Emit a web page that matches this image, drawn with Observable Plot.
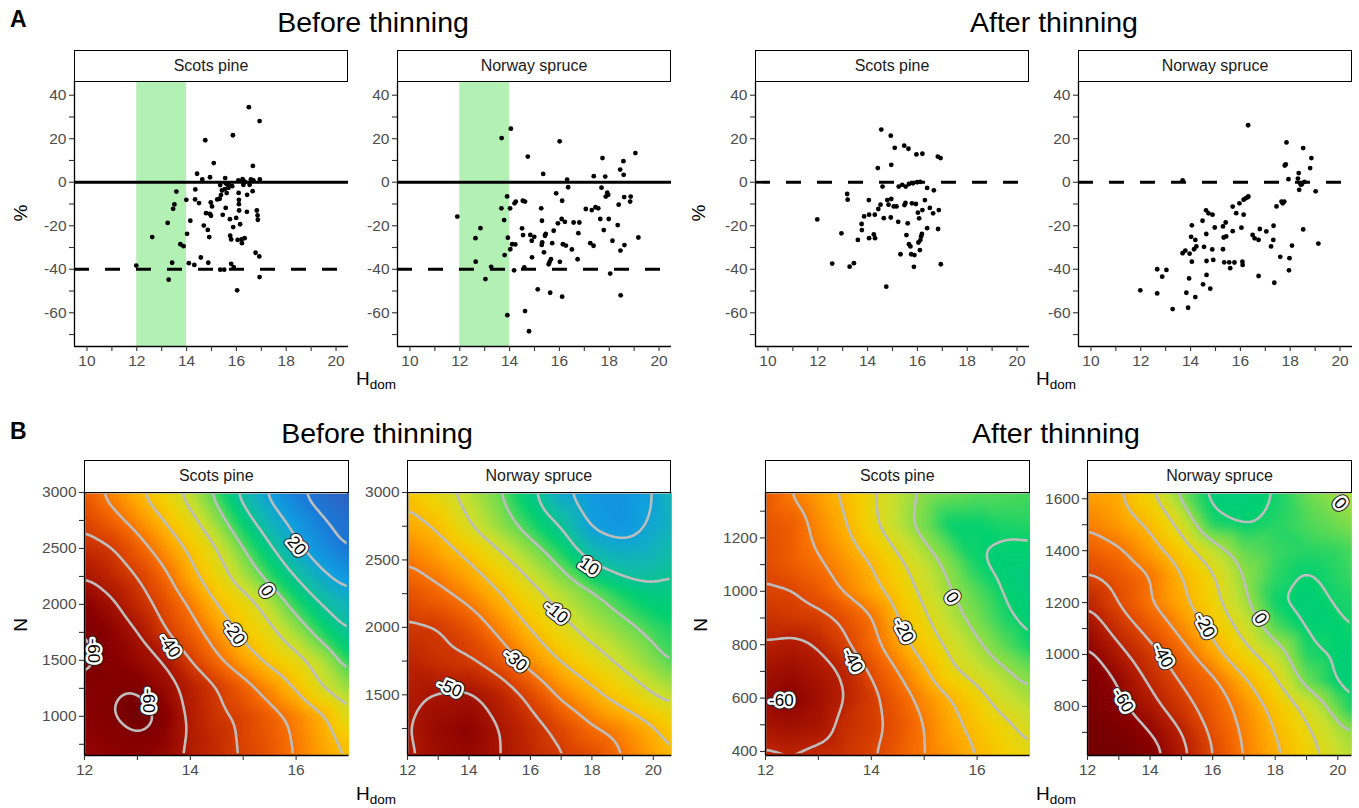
<!DOCTYPE html>
<html>
<head>
<meta charset="utf-8">
<script src="https://cdn.jsdelivr.net/npm/d3@7"></script>
<script src="https://cdn.jsdelivr.net/npm/@observablehq/plot@0.6"></script>
<style>
  body { margin: 0; background: #fff; }
  #fig { position: relative; width: 1359px; height: 808px; overflow: hidden; background: #fff;
         font-family: "Liberation Sans", Arial, Helvetica, sans-serif; color: #000; }
  .strip { position: absolute; box-sizing: border-box; border: 1.4px solid #000; background: #fff;
           display: flex; align-items: center; justify-content: center; font-size: 16px; color: #1a1a1a; z-index: 2; }
  .title { position: absolute; font-size: 28.5px; line-height: 28px; white-space: nowrap; transform: translateX(-50%); }
  .tag { position: absolute; font-size: 23px; line-height: 23px; font-weight: bold; }
  .axt { position: absolute; font-size: 19px; line-height: 19px; white-space: nowrap; }
  .axt sub { font-size: 13.5px; vertical-align: -4px; line-height: 0; }
  .roty { transform: translate(-50%, -50%) rotate(-90deg); }
</style>
</head>
<body>
<div id="fig"></div>
<script>
const FONT = '"Liberation Sans", Arial, Helvetica, sans-serif';

// ---------- Panel A: relative error (%) against dominant height ----------
const pineBefore = [
  [11.98,-38.3],[12.62,-25.2],[13.24,-18.7],[13.28,-44.8],[13.42,-37.0],[13.46,-12.2],[13.51,-10.2],[13.59,-4.3],
  [13.75,-28.5],[13.88,-29.4],[13.99,-8.1],[14.02,-23.7],[14.09,-37.2],[14.15,-17.7],[14.31,-38.0],[14.34,-7.9],
  [14.35,-3.3],[14.42,3.9],[14.5,-9.6],[14.57,-34.6],[14.63,1.3],[14.69,-19.9],[14.75,19.3],[14.78,-14.2],
  [14.85,-21.9],[14.87,-37.0],[14.91,-25.2],[14.94,2.3],[14.93,-14.5],[14.97,-9.3],[14.98,-15.4],[15.02,-11.1],
  [15.09,8.8],[15.23,-7.9],[15.33,-7.6],[15.38,-5.9],[15.42,-3.8],[15.45,-15.0],[15.35,-40.2],[15.51,-40.2],
  [15.53,-3.2],[15.55,1.9],[15.57,-11.8],[15.61,-5.0],[15.64,-1.0],[15.68,-2.6],[15.74,-17.0],[15.75,-24.6],
  [15.79,-26.3],[15.79,-37.5],[15.83,-1.8],[15.86,21.6],[15.87,-20.6],[15.89,-39.0],[15.99,-16.4],[16.03,-49.7],
  [16.05,-26.5],[16.09,-4.9],[16.1,-8.1],[16.1,-10.1],[16.11,-13.0],[16.15,-19.3],[16.21,-26.3],[16.22,-28.0],
  [16.25,1.4],[16.28,-1.2],[16.33,-25.7],[16.42,-13.6],[16.43,-5.8],[16.5,34.5],[16.53,-1.2],[16.58,1.3],
  [16.65,-4.1],[16.66,7.5],[16.77,-32.4],[16.82,-13.0],[16.85,-15.3],[16.86,-17.3],[16.93,28.1],[16.94,1.3],
  [16.92,-34.1],[16.93,-43.6],[15.35,-1.3],[15.57,-0.5],[15.69,-0.9],[16.08,0.8],[16.35,0.2],[16.68,0.9]
];
const spruceBefore = [
  [11.9,-15.8],[12.63,-25.7],[12.64,-36.5],[12.83,-21.1],[13.03,-44.5],[13.26,-38.9],[13.67,-12.0],[13.68,20.3],
  [13.78,-17.4],[13.8,-33.5],[13.9,-6.5],[13.91,-61.1],[13.93,-25.5],[14.02,-12.0],[14.03,-30.8],[14.05,24.6],
  [14.1,-28.5],[14.18,-40.5],[14.2,-9.7],[14.23,-28.6],[14.25,-8.9],[14.5,-21.2],[14.53,-8.5],[14.54,-24.3],
  [14.62,-8.9],[14.62,-59.2],[14.59,-39.2],[14.73,11.8],[14.78,-68.5],[14.83,-24.2],[14.89,-26.9],[14.9,-34.5],
  [14.99,-25.1],[15.13,-49.2],[15.27,-12.0],[15.29,-28.8],[15.3,-17.7],[15.31,-27.7],[15.35,3.8],[15.38,-32.2],
  [15.42,-24.6],[15.45,-23.8],[15.57,-37.7],[15.61,-36.6],[15.63,-50.8],[15.66,-35.4],[15.71,-28.0],[15.77,-22.3],
  [15.87,-5.1],[15.94,-18.9],[16.01,18.8],[16.02,-36.6],[16.09,-16.9],[16.11,-8.5],[16.11,-52.6],[16.14,-28.5],
  [16.22,-18.2],[16.26,-29.1],[16.31,1.2],[16.35,-2.3],[16.5,-30.9],[16.57,-18.5],[16.73,-35.4],[16.76,-23.4],
  [16.8,-18.5],[17.06,-12.3],[17.24,-28.0],[17.3,-12.8],[17.37,-29.2],[17.38,2.8],[17.45,-11.5],[17.56,-12.0],
  [17.64,-16.9],[17.69,-2.5],[17.73,11.1],[17.78,-22.0],[17.84,2.6],[17.86,-6.6],[17.92,-4.8],[17.96,-5.8],
  [17.98,-16.9],[18.04,-42.0],[18.13,-26.9],[18.34,-19.7],[18.38,-10.3],[18.44,5.8],[18.45,-31.4],[18.46,-52.0],
  [18.57,9.7],[18.58,3.4],[18.6,-6.8],[18.61,-28.9],[18.84,-8.9],[18.86,-6.6],[19.05,13.4],[19.17,-25.4]
];
const pineAfter = [
  [11.98,-17.1],[12.58,-37.4],[12.95,-23.5],[13.18,-5.4],[13.2,-8.0],[13.28,-38.8],[13.45,-37.2],[13.61,-26.5],
  [13.76,-19.2],[13.77,-22.0],[13.86,-15.7],[14.05,-8.2],[14.06,-14.9],[14.06,-25.7],[14.25,-24.0],[14.29,-14.9],
  [14.3,-25.7],[14.41,6.5],[14.43,-12.3],[14.52,-10.3],[14.55,24.2],[14.6,-2.0],[14.65,-16.5],[14.79,-8.2],
  [14.84,-10.3],[14.93,21.4],[14.95,8.0],[14.95,-7.7],[14.93,-16.2],[15.05,-11.1],[15.09,15.8],[15.16,-11.1],
  [15.23,-18.2],[15.25,-2.0],[15.32,-33.1],[15.39,-1.2],[15.47,16.8],[15.48,-10.5],[15.52,-9.5],[15.53,-2.0],
  [15.56,-24.3],[15.61,-18.9],[15.64,15.4],[15.66,-0.8],[15.66,-28.5],[15.72,-29.5],[15.78,-9.7],[15.82,-0.5],
  [15.75,-33.1],[15.86,-38.9],[15.88,-33.5],[15.94,-10.0],[15.96,12.8],[15.99,0.0],[16.02,-14.0],[16.04,-27.7],
  [16.07,-16.6],[16.1,-31.2],[16.11,0.2],[16.12,-26.6],[16.15,-24.9],[16.18,-23.8],[16.2,13.1],[16.2,-12.8],
  [16.3,-8.2],[16.39,-2.6],[16.39,-21.1],[16.5,-11.8],[16.63,-14.3],[16.66,-3.7],[16.82,11.8],[16.83,-21.5],
  [16.86,-12.8],[16.93,11.1],[16.94,-37.7],[14.75,-48.0]
];
const spruceAfter = [
  [11.98,-49.7],[12.66,-40.0],[12.66,-51.1],[12.86,-43.4],[13.03,-40.3],[13.28,-58.3],[13.68,0.8],[13.68,-32.6],
  [13.79,-31.4],[13.83,-50.8],[13.9,-57.7],[13.94,-44.2],[13.96,-32.8],[14.02,-25.1],[14.05,-19.8],[14.05,-36.5],
  [14.14,-30.8],[14.19,-26.5],[14.23,-29.5],[14.19,-52.8],[14.48,-17.7],[14.5,-46.9],[14.54,-29.7],[14.62,-12.9],
  [14.63,-23.8],[14.64,-36.2],[14.64,-42.6],[14.72,-14.3],[14.79,-48.9],[14.87,-30.9],[14.88,-14.9],[14.91,-35.7],
  [14.97,-20.8],[15.3,-20.3],[15.3,-30.8],[15.33,-25.4],[15.35,-36.8],[15.41,-18.5],[15.43,-24.9],[15.55,-36.8],
  [15.59,-39.5],[15.69,-22.5],[15.69,-11.2],[15.76,-36.9],[15.83,-14.2],[15.96,-9.7],[16.04,-20.9],[16.08,-36.5],
  [16.09,-38.0],[16.13,-14.9],[16.13,-8.0],[16.21,-7.4],[16.29,-6.9],[16.32,-6.5],[16.31,26.2],[16.49,-24.2],
  [16.57,-25.8],[16.73,-26.5],[16.73,-43.1],[16.78,-21.5],[17.04,-22.6],[17.23,-29.5],[17.32,-26.5],[17.33,-20.0],
  [17.36,-46.2],[17.45,-11.1],[17.6,-34.3],[17.65,-8.9],[17.7,-9.7],[17.76,-8.9],[17.78,7.7],[17.82,8.2],
  [17.85,18.3],[17.93,1.4],[17.97,-34.9],[17.95,-40.5],[18.07,-29.1],[18.34,4.2],[18.31,1.7],[18.36,-3.5],
  [18.4,-0.5],[18.47,-0.8],[18.52,15.7],[18.52,-21.7],[18.57,0.2],[18.8,6.5],[18.85,11.1],[19.02,-4.2],
  [19.13,-28.2],[18.43,-1.2]
];

const scatterXDomain = [9.5, 20.5];
const scatterYDomain = [-75.5, 46.3];
const scatterXTicks = [10, 11, 12, 13, 14, 15, 16, 17, 18, 19, 20];
const scatterYTicks = [-70, -60, -50, -40, -30, -20, -10, 0, 10, 20, 30, 40];
const heightBand = [{from: 12, to: 14}];
const beforeRefs = [{y: 0, dashed: false}, {y: -40, dashed: true}];
const afterRefs = [{y: 0, dashed: true}];

// ---------- Panel B: error surface over Hdom (columns) and N (rows) ----------
const pineBeforeH = [12, 12.5, 13, 13.5, 14, 14.5, 15, 15.5, 16, 16.5, 17];
const pineBeforeN = [3000, 2750, 2500, 2250, 2000, 1750, 1500, 1250, 1000, 800, 650];
const pineBeforeZ = [
  [-34, -27.5, -21, -14.3, -6.8, 2.4, 12.9, 21.9, 28.8, 34, 37],
  [-38.5, -33, -26.8, -20, -12.5, -3.1, 6.4, 15.5, 23.2, 29.5, 33],
  [-44, -41, -33.5, -26, -18.5, -10.2, 0, 8.6, 18.3, 25.3, 31],
  [-50, -45.5, -40, -32, -22.7, -14.1, -5.7, 2.5, 10.3, 18.6, 24],
  [-57, -51.8, -44.6, -37, -29, -20, -14.2, -6.7, 2.9, 10.3, 16],
  [-61, -56.3, -50.6, -40.8, -33.7, -25.9, -18.1, -12.4, -4.8, 3.6, 10.5],
  [-61.5, -57.4, -53.8, -50.1, -39.8, -31.4, -24.1, -17.9, -12.8, -5.8, 3.5],
  [-58, -58.5, -59.8, -54, -47.5, -40.7, -33.7, -26.6, -19.5, -10, -3.5],
  [-57, -59.5, -64.5, -58.5, -48, -42, -38.5, -33.4, -28, -21.8, -11],
  [-56, -57, -59, -56, -48.5, -44, -38.5, -34.5, -29, -23, -17],
  [-55, -56, -57, -54, -48, -43.6, -39.4, -35, -29.5, -24, -19]
];
const spruceBeforeH = [12, 13, 14, 15, 16, 17, 18, 19, 20, 20.6];
const spruceBeforeN = [3000, 2750, 2500, 2250, 2000, 1750, 1500, 1250, 1050];
const spruceBeforeZ = [
  [-18, -12.7, -6.7, -0.1, 8.3, 19, 23, 24, 20.5, 14],
  [-23.3, -18.9, -10.4, -3.6, 3.1, 10, 21.5, 23.5, 19, 15.5],
  [-29.6, -25.2, -19.8, -12.4, -5.3, 1.9, 11, 15, 14, 12],
  [-35.9, -32.1, -27.1, -20.4, -12.8, -6.5, -0.9, 4.5, 8, 7.5],
  [-41.5, -40.4, -35.3, -27.5, -19.5, -12.2, -6.7, -2, 2.5, 4],
  [-45.5, -43, -41, -35.4, -26.7, -19.5, -13.7, -8, -2.2, 1.2],
  [-48, -50.5, -51.5, -46, -37.4, -28.5, -22.3, -16.2, -10, -7],
  [-49, -54, -56, -50, -44, -37.6, -31, -27, -21, -16.9],
  [-48.5, -53, -54.5, -50.2, -45, -41, -37, -30.2, -24, -20]
];
const pineAfterH = [12, 12.5, 13, 13.5, 14, 14.5, 15, 15.5, 16, 16.5, 17];
const pineAfterN = [1370, 1250, 1100, 1000, 900, 800, 700, 600, 500, 385];
const pineAfterZ = [
  [-36, -29.3, -24, -18.3, -11, -4, 1.5, 3.5, 5, 5.5, 6.5],
  [-37.5, -34.8, -27.4, -20.7, -12, -3.7, 3.3, 10.5, 10.5, 9, 8.5],
  [-39, -35.1, -31.3, -26.1, -20.3, -12.4, -4.8, 2.3, 9.7, 12, 12],
  [-41, -40.6, -36.3, -28.7, -23, -16, -7.7, 0, 5.4, 10.5, 13],
  [-46, -44, -42.5, -38, -31, -20.1, -11.4, -3.3, 3, 8.7, 12],
  [-50.8, -53, -49.3, -41.6, -32.9, -24, -15.4, -7.6, -1.2, 5, 10],
  [-56, -58, -54, -49, -38.8, -30, -21.5, -11.5, -6, -1.2, 3.5],
  [-58.5, -62, -57, -50.3, -43, -34.9, -27, -20.3, -13.5, -6, -1.5],
  [-55, -57, -55, -47, -43, -37.2, -30, -22.5, -17, -12, -7],
  [-48, -49, -47, -45, -41, -35.4, -30, -25.5, -20, -15, -11]
];
const spruceAfterH = [12, 13, 14, 15, 16, 17, 18, 19, 20, 20.45];
const spruceAfterN = [1624, 1500, 1400, 1300, 1200, 1100, 1000, 900, 800, 700, 611];
const spruceAfterZ = [
  [-24, -21, -11.4, 3, 12.5, 13, 9.8, 4, -1, -3],
  [-29, -24.7, -18.8, -7.7, 8.5, 10.5, 8.5, 6, 3.5, 2],
  [-35, -31.3, -23.9, -15.2, -4.5, 4.5, 7, 8.5, 7.5, 6],
  [-41, -36.3, -30.7, -20.7, -11.3, 0.5, 8, 10.8, 8.5, 7],
  [-49.5, -39.2, -30.2, -22.2, -13, -2, 10, 12, 9.5, 9],
  [-57, -45.8, -36.7, -27.5, -17.8, -7.2, 5, 11, 11, 9.8],
  [-62.5, -53.1, -43.4, -33.8, -23.3, -12.9, -4.6, 8.5, 11, 12],
  [-66, -59.6, -48.4, -39.1, -31.9, -21.4, -11.3, 4, 11.5, 12],
  [-68, -62, -53.7, -44, -35.4, -26.8, -16.9, -7.7, 4.4, 10],
  [-70, -67, -60.4, -50.4, -38.2, -28.7, -20, -11.6, -3, 0],
  [-69, -70, -65, -53, -40, -29.6, -21.8, -14, -5.8, -3]
];

// contour labels: position (Hdom, N), text and text angle
const pineBeforeLabels = [
  {h: 12.17, n: 1586, t: "-60", r: 90}, {h: 13.2, n: 1140, t: "-60", r: 90},
  {h: 13.61, n: 1631, t: "-40", r: 55}, {h: 14.83, n: 1747, t: "-20", r: 55},
  {h: 15.45, n: 2122, t: "0", r: 55}, {h: 16.01, n: 2524, t: "20", r: 50}
];
const spruceBeforeLabels = [
  {h: 13.37, n: 1552, t: "-50", r: 22}, {h: 15.51, n: 1758, t: "-30", r: 40},
  {h: 16.84, n: 2112, t: "-10", r: 40}, {h: 17.92, n: 2451, t: "10", r: 35}
];
const pineAfterLabels = [
  {h: 12.3, n: 591, t: "-60", r: 0}, {h: 13.65, n: 741, t: "-40", r: 62},
  {h: 14.61, n: 853, t: "-20", r: 62}, {h: 15.53, n: 977, t: "0", r: 55}
];
const spruceAfterLabels = [
  {h: 20.08, n: 1582, t: "0", r: 50}, {h: 17.53, n: 1139, t: "0", r: 55},
  {h: 15.75, n: 1112, t: "-20", r: 62}, {h: 14.41, n: 996, t: "-40", r: 62},
  {h: 13.14, n: 823, t: "-60", r: 60}
];

const contourLevels = [-70, -60, -50, -40, -30, -20, -10, 0, 10, 20, 30, 40];
const beforeColorRange = [-65, 37];
const afterColorRange = [-72, 48];
const surfaceStops = [0, 0.08, 0.18, 0.27, 0.34, 0.41, 0.48, 0.56, 0.63, 0.69, 0.76, 0.85, 0.93, 1];
const surfaceColors = ["#6e0000", "#8a0000", "#b82000", "#e04800", "#f87000", "#ffa800", "#f5cf00",
                       "#c8e030", "#70dc50", "#00d070", "#10bca8", "#109ee0", "#1a7ad8", "#3060c0"];

// ---------- layout ----------
const fig = document.getElementById("fig");
const SVGNS = "http://www.w3.org/2000/svg";
const ML = 60, MR = 16, MB = 36;
const ROW_A = {top: 81, bottom: 346, stripTop: 50};
const ROW_B = {top: 492, bottom: 755, stripTop: 460};
let clipCount = 0;

function addSvg(svg, left, top) {
  svg.style.position = "absolute";
  svg.style.left = left + "px";
  svg.style.top = top + "px";
  fig.appendChild(svg);
}
function addDiv(cls, html, css) {
  const d = document.createElement("div");
  d.className = cls;
  d.innerHTML = html;
  Object.assign(d.style, css);
  fig.appendChild(d);
  return d;
}
function strip(text, left, right, row) {
  addDiv("strip", text, {left: left + "px", top: row.stripTop + "px",
    width: (right - left) + "px", height: (row.top - row.stripTop + 0.7) + "px"});
}
function axisMarks(xTicks, xEvery, yTicks, yEvery) {
  const common = {tickSize: 5, tickPadding: 3, fontSize: 15.5, fill: "#4d4d4d", stroke: "#333", strokeWidth: 1.1, label: null};
  return [
    Plot.axisX({...common, ticks: xTicks, tickFormat: d => (d % xEvery === 0 ? String(d) : "")}),
    Plot.axisY({...common, ticks: yTicks, tickFormat: d => (d % yEvery === 0 ? String(d) : "")})
  ];
}
// keep the contour rings' closing edges (which run along the frame) out of sight
function insetClip(svg, w, h, inset) {
  const g = svg.querySelector('g[aria-label="contour"]');
  if (!g) return;
  const id = "surface-clip-" + (++clipCount);
  const cp = document.createElementNS(SVGNS, "clipPath");
  cp.setAttribute("id", id);
  const rect = document.createElementNS(SVGNS, "rect");
  rect.setAttribute("x", ML + inset);
  rect.setAttribute("y", inset);
  rect.setAttribute("width", w - 2 * inset);
  rect.setAttribute("height", h - 2 * inset);
  cp.appendChild(rect);
  svg.insertBefore(cp, svg.firstChild);
  const wrap = document.createElementNS(SVGNS, "g");
  wrap.setAttribute("clip-path", `url(#${id})`);
  g.parentNode.insertBefore(wrap, g);
  wrap.appendChild(g);
}

function scatterPanel(name, points, left, right, refs, band) {
  const marks = [];
  if (band) marks.push(Plot.rect(heightBand, {x1: "from", x2: "to", fill: "#b3f0b3"}));
  for (const r of refs) {
    marks.push(Plot.ruleY([r.y], r.dashed
      ? {stroke: "#000", strokeWidth: 2.8, strokeDasharray: "15,16"}
      : {stroke: "#000", strokeWidth: 2.8}));
  }
  marks.push(Plot.dot(points, {x: d => d[0], y: d => d[1], r: 2.4, fill: "#000"}));
  marks.push(Plot.ruleX([scatterXDomain[0]], {stroke: "#000", strokeWidth: 1.3}));
  marks.push(Plot.ruleY([scatterYDomain[0]], {stroke: "#000", strokeWidth: 1.3}));
  marks.push(...axisMarks(scatterXTicks, 2, scatterYTicks, 20));
  const svg = Plot.plot({
    width: right - left + ML + MR, height: ROW_A.bottom - ROW_A.top + MB,
    marginLeft: ML, marginRight: MR, marginTop: 0, marginBottom: MB,
    x: {domain: scatterXDomain}, y: {domain: scatterYDomain},
    style: {fontFamily: FONT, background: "transparent", overflow: "visible"},
    marks
  });
  addSvg(svg, left - ML, ROW_A.top);
  strip(name, left, right, ROW_A);
}

function surfacePanel(name, H, N, Z, labels, left, right, colorRange, xTicks, yTicks, yEvery) {
  const grid = [];
  N.forEach((n, i) => H.forEach((h, j) => grid.push({h, n, v: Z[i][j]})));
  const xDom = [H[0], H[H.length - 1]];
  const yDom = [N[N.length - 1], N[0]];
  const [lo, hi] = colorRange;
  const fw = right - left, fh = ROW_B.bottom - ROW_B.top;
  const labelText = {x: "h", y: "n", text: "t", rotate: "r", fontSize: 17, fontFamily: FONT,
                     strokeLinejoin: "round", paintOrder: "stroke"};
  const svg = Plot.plot({
    width: fw + ML + MR, height: fh + MB,
    marginLeft: ML, marginRight: MR, marginTop: 0, marginBottom: MB,
    x: {domain: xDom}, y: {domain: yDom},
    color: {type: "linear", domain: surfaceStops.map(t => lo + t * (hi - lo)), range: surfaceColors,
            interpolate: "rgb", clamp: true},
    style: {fontFamily: FONT, background: "transparent", overflow: "visible"},
    marks: [
      Plot.raster(grid, {x: "h", y: "n", fill: "v", interpolate: "barycentric", blur: 3,
                         x1: xDom[0], x2: xDom[1], y1: yDom[0], y2: yDom[1]}),
      Plot.contour(grid, {x: "h", y: "n", value: "v", interpolate: "barycentric", blur: 4,
                          thresholds: contourLevels, stroke: "#bdbdbd", strokeWidth: 2.6, fill: "none",
                          x1: xDom[0], x2: xDom[1], y1: yDom[0], y2: yDom[1]}),
      Plot.text(labels, {...labelText, fill: "#111", stroke: "#222", strokeWidth: 7}),
      Plot.text(labels, {...labelText, fill: "#000", stroke: "#fff", strokeWidth: 5}),
      Plot.ruleX([xDom[0]], {stroke: "#000", strokeWidth: 1.3}),
      Plot.ruleY([yDom[0]], {stroke: "#000", strokeWidth: 1.3}),
      ...axisMarks(xTicks, 2, yTicks, yEvery)
    ]
  });
  insetClip(svg, fw, fh, 1.8);
  addSvg(svg, left - ML, ROW_B.top);
  strip(name, left, right, ROW_B);
}

// ---------- row A ----------
scatterPanel("Scots pine", pineBefore, 74, 348, beforeRefs, true);
scatterPanel("Norway spruce", spruceBefore, 397, 671, beforeRefs, true);
scatterPanel("Scots pine", pineAfter, 755, 1029, afterRefs, false);
scatterPanel("Norway spruce", spruceAfter, 1078, 1352, afterRefs, false);

// ---------- row B ----------
surfacePanel("Scots pine", pineBeforeH, pineBeforeN, pineBeforeZ, pineBeforeLabels, 84, 348.5,
  beforeColorRange, [12, 13, 14, 15, 16], d3.range(750, 3001, 250), 500);
surfacePanel("Norway spruce", spruceBeforeH, spruceBeforeN, spruceBeforeZ, spruceBeforeLabels, 406.7, 671,
  beforeColorRange, d3.range(12, 21), d3.range(1250, 3001, 250), 500);
surfacePanel("Scots pine", pineAfterH, pineAfterN, pineAfterZ, pineAfterLabels, 765, 1029.5,
  afterColorRange, [12, 13, 14, 15, 16], d3.range(400, 1301, 100), 200);
surfacePanel("Norway spruce", spruceAfterH, spruceAfterN, spruceAfterZ, spruceAfterLabels, 1087.3, 1351.7,
  afterColorRange, d3.range(12, 21), d3.range(700, 1601, 100), 200);

// ---------- titles and axis titles ----------
addDiv("tag", "A", {left: "10px", top: "8px"});
addDiv("tag", "B", {left: "10px", top: "420px"});
addDiv("title", "Before thinning", {left: "373px", top: "8px"});
addDiv("title", "After thinning", {left: "1054px", top: "8px"});
addDiv("title", "Before thinning", {left: "377px", top: "419px"});
addDiv("title", "After thinning", {left: "1056px", top: "419px"});
addDiv("axt roty", "%", {left: "20px", top: "213px"});
addDiv("axt roty", "%", {left: "698px", top: "213px"});
addDiv("axt roty", "N", {left: "20px", top: "625px"});
addDiv("axt roty", "N", {left: "700px", top: "625px"});
addDiv("axt", "H<sub>dom</sub>", {left: "356px", top: "369px"});
addDiv("axt", "H<sub>dom</sub>", {left: "1036px", top: "369px"});
addDiv("axt", "H<sub>dom</sub>", {left: "356px", top: "784px"});
addDiv("axt", "H<sub>dom</sub>", {left: "1036px", top: "784px"});
</script>
</body>
</html>
